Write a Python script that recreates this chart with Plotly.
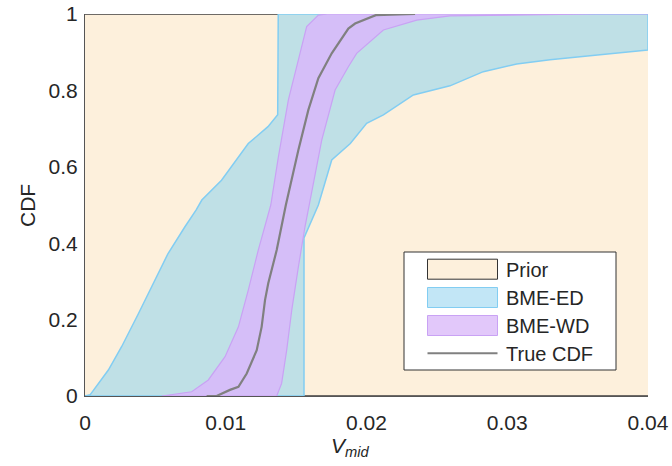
import plotly.graph_objects as go

# ---------------- data ----------------
# BME-ED band: upper bound (left) and lower bound (right)
ed_upper_x = [0.0, 0.00036, 0.00166, 0.0026, 0.0038, 0.00474, 0.0059, 0.0071, 0.0079, 0.0083,
              0.0097, 0.0116, 0.0130, 0.01369, 0.01373, 0.04]
ed_upper_y = [0.0, 0.003, 0.068, 0.129, 0.216, 0.286, 0.373, 0.443, 0.487, 0.513,
              0.565, 0.661, 0.705, 0.736, 1.0, 1.0]
ed_lower_x = [0.0, 0.01556, 0.01556, 0.01658, 0.01753, 0.01885, 0.02001, 0.0212, 0.02333, 0.02593,
              0.0283, 0.03067, 0.03304, 0.03659, 0.04]
ed_lower_y = [0.0, 0.0, 0.414, 0.500, 0.618, 0.661, 0.714, 0.736, 0.788, 0.812,
              0.849, 0.869, 0.880, 0.893, 0.906]

# BME-WD band
wd_upper_x = [0.00545, 0.00758, 0.00876, 0.00995, 0.0109, 0.0116, 0.01231, 0.0129, 0.0132,
              0.01374, 0.01445, 0.01516, 0.01575, 0.01658, 0.0172, 0.04]
wd_upper_y = [0.0, 0.011, 0.042, 0.103, 0.181, 0.277, 0.382, 0.461, 0.500,
              0.626, 0.775, 0.880, 0.967, 0.997, 1.0, 1.0]
wd_lower_x = [0.00545, 0.01362, 0.01397, 0.01433, 0.01469, 0.01516, 0.01563, 0.01593, 0.01682,
              0.01777, 0.01871, 0.0193, 0.0212, 0.02357, 0.02593, 0.03624, 0.04]
wd_lower_y = [0.0, 0.0, 0.033, 0.120, 0.225, 0.338, 0.443, 0.500, 0.670,
              0.801, 0.862, 0.897, 0.958, 0.984, 0.995, 1.0, 1.0]

# True CDF
true_x = [0.00864, 0.00935, 0.0103, 0.0109, 0.01149, 0.0122, 0.01255, 0.01279, 0.01302, 0.01362,
          0.01427, 0.01516, 0.01587, 0.01658, 0.01753, 0.01871, 0.01919, 0.02066, 0.02345]
true_y = [0.0, 0.0, 0.016, 0.024, 0.059, 0.12, 0.181, 0.251, 0.295, 0.382,
          0.500, 0.644, 0.749, 0.832, 0.897, 0.962, 0.975, 0.997, 1.0]

# Prior band
prior_x = [0.0, 0.04]
prior_lo = [0.0, 0.0]
prior_hi = [1.0, 1.0]

series_names = ["Prior", "BME-ED", "BME-WD", "True CDF"]
x_ticks = [0, 0.01, 0.02, 0.03, 0.04]
x_tick_labels = ["0", "0.01", "0.02", "0.03", "0.04"]
y_ticks = [0, 0.2, 0.4, 0.6, 0.8, 1]
y_tick_labels = ["0", "0.2", "0.4", "0.6", "0.8", "1"]

# ---------------- styles ----------------
PRIOR_FILL = "#FDF0DC"
PRIOR_EDGE = "#6E6A66"
ED_FILL = "#BFE0E6"
ED_EDGE = "#82CDF2"
ED_LEG_FILL = "#C2E6F6"
WD_FILL = "#D5BEF8"
WD_EDGE = "#C9A2F4"
WD_LEG_FILL = "#E2C8FA"
TRUE_COL = "#808080"
TXT = "#262626"
FONT = "Liberation Sans, Arial, sans-serif"

W, H = 672, 466
L, R, T, B = 85, 24, 14, 70

fig = go.Figure()

# Prior (full band): fill without outline, edges drawn separately (top and bottom only)
fig.add_trace(go.Scatter(
    x=prior_x + prior_x[::-1] + [prior_x[0]],
    y=prior_lo + prior_hi[::-1] + [prior_lo[0]],
    fill="toself", fillcolor=PRIOR_FILL, mode="none",
    name=series_names[0], showlegend=False, hoverinfo="skip"))
fig.add_trace(go.Scatter(
    x=prior_x, y=prior_hi, mode="lines",
    line=dict(color=PRIOR_EDGE, width=2), showlegend=False, hoverinfo="skip"))
fig.add_trace(go.Scatter(
    x=prior_x, y=prior_lo, mode="lines",
    line=dict(color=PRIOR_EDGE, width=2), showlegend=False, hoverinfo="skip"))

# BME-ED
fig.add_trace(go.Scatter(
    x=ed_upper_x + ed_lower_x[::-1],
    y=ed_upper_y + ed_lower_y[::-1],
    fill="toself", fillcolor=ED_FILL, mode="lines",
    line=dict(color=ED_EDGE, width=1.5), name=series_names[1],
    showlegend=False, hoverinfo="skip"))

# BME-WD
fig.add_trace(go.Scatter(
    x=wd_upper_x + wd_lower_x[::-1],
    y=wd_upper_y + wd_lower_y[::-1],
    fill="toself", fillcolor=WD_FILL, mode="lines",
    line=dict(color=WD_EDGE, width=1.2), name=series_names[2],
    showlegend=False, hoverinfo="skip"))

# True CDF
fig.add_trace(go.Scatter(
    x=true_x, y=true_y, mode="lines",
    line=dict(color=TRUE_COL, width=2.2), name=series_names[3],
    showlegend=False, hoverinfo="skip"))

# ---------------- manual legend (paper coords) ----------------
pw, ph = W - L - R, H - T - B


def px(xp):
    return (xp - L) / pw


def py(yp):
    return (H - B - yp) / ph


shapes = []
annotations = []
shapes.append(dict(type="rect", xref="paper", yref="paper",
                   x0=px(404), x1=px(616), y0=py(370), y1=py(252),
                   fillcolor="white", line=dict(color="#333333", width=1)))
sw_x0, sw_x1 = px(427.5), px(497.5)
legend_rows = [
    (series_names[0], 269.2, PRIOR_FILL, "#333333"),
    (series_names[1], 297.5, ED_LEG_FILL, ED_EDGE),
    (series_names[2], 325.5, WD_LEG_FILL, WD_EDGE),
]
for name, cy, fc, ec in legend_rows:
    shapes.append(dict(type="rect", xref="paper", yref="paper",
                       x0=sw_x0, x1=sw_x1, y0=py(cy + 10), y1=py(cy - 10),
                       fillcolor=fc, line=dict(color=ec, width=1)))
shapes.append(dict(type="line", xref="paper", yref="paper",
                   x0=sw_x0, x1=sw_x1, y0=py(353.3), y1=py(353.3),
                   line=dict(color=TRUE_COL, width=2)))
for name, cy in [(series_names[0], 270), (series_names[1], 298),
                 (series_names[2], 326), (series_names[3], 353.5)]:
    annotations.append(dict(xref="paper", yref="paper", x=px(504), y=py(cy),
                            xanchor="left", yanchor="middle", showarrow=False,
                            text=name, font=dict(family=FONT, size=20, color=TXT)))

# axis titles
annotations.append(dict(xref="paper", yref="paper", x=px(350), y=py(447),
                        xanchor="center", yanchor="middle", showarrow=False,
                        text="<i>V<sub>mid</sub></i>",
                        font=dict(family=FONT, size=21, color=TXT)))
annotations.append(dict(xref="paper", yref="paper", x=px(27), y=py(206),
                        xanchor="center", yanchor="middle", showarrow=False,
                        text="CDF", textangle=-90,
                        font=dict(family=FONT, size=21, color=TXT)))

fig.update_layout(
    width=W, height=H,
    margin=dict(l=L, r=R, t=T, b=B, autoexpand=False),
    paper_bgcolor="white", plot_bgcolor="white",
    showlegend=False,
    shapes=shapes, annotations=annotations,
    font=dict(family=FONT, size=21, color=TXT),
    xaxis=dict(range=[0, 0.04], tickvals=x_ticks, ticktext=x_tick_labels,
               showgrid=False, zeroline=False, showline=True, automargin=False,
               linecolor="#555555", linewidth=1, ticks="", ticklabelstandoff=8,
               tickfont=dict(family=FONT, size=21, color=TXT)),
    yaxis=dict(range=[0, 1], tickvals=y_ticks, ticktext=y_tick_labels,
               showgrid=False, zeroline=False, showline=True, automargin=False,
               linecolor="#555555", linewidth=1, ticks="", ticklabelstandoff=2,
               tickfont=dict(family=FONT, size=21, color=TXT)),
)

fig.write_html("out.html")
